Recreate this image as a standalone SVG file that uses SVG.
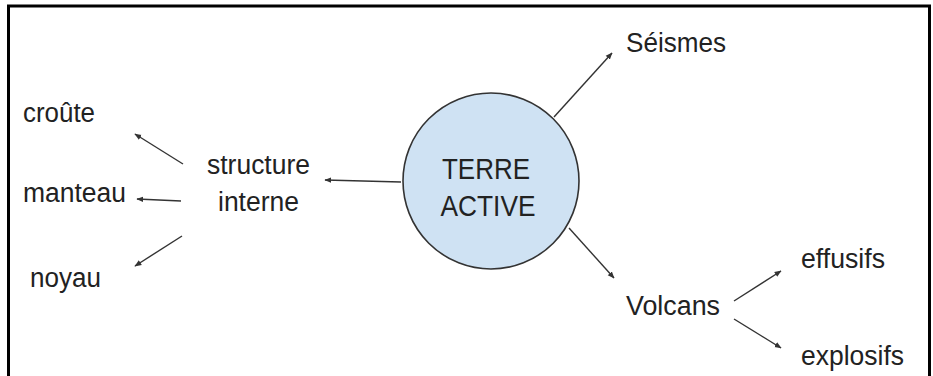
<svg xmlns="http://www.w3.org/2000/svg" width="933" height="376" viewBox="0 0 933 376">
<style>
.t{font-family:"Liberation Sans",Arial,sans-serif;font-size:27px;fill:#222;}
.c{font-size:30px;text-anchor:middle;}
.e{stroke:#333;stroke-width:1.4;fill:none;marker-end:url(#ah);}
</style>
<defs>
<marker id="ah" viewBox="0 0 10 10" refX="9" refY="5" markerWidth="7" markerHeight="7" markerUnits="userSpaceOnUse" orient="auto">
<path d="M0,1 L10,5 L0,9 z" fill="#333"/>
</marker>
</defs>
<rect width="933" height="376" fill="#fff"/>
<path d="M8.5,380 V6 H929.5 V380" fill="none" stroke="#000" stroke-width="3"/>
<g id="connectors">
<line class="e" x1="401" y1="182" x2="325" y2="180"/>
<line class="e" x1="183" y1="164" x2="135" y2="134"/>
<line class="e" x1="181" y1="201" x2="137" y2="199"/>
<line class="e" x1="182" y1="236" x2="135" y2="266"/>
<line class="e" x1="554" y1="117" x2="612" y2="53"/>
<line class="e" x1="569" y1="228" x2="614" y2="278"/>
<line class="e" x1="734" y1="301" x2="781" y2="271"/>
<line class="e" x1="734" y1="319" x2="781" y2="348"/>
</g>
<g id="terre">
<circle cx="491" cy="181" r="88" fill="#cfe2f3" stroke="#333" stroke-width="1.6"/>
<text class="t c" x="486" y="179" textLength="88" lengthAdjust="spacingAndGlyphs">TERRE</text>
<text class="t c" x="488" y="216" textLength="95" lengthAdjust="spacingAndGlyphs">ACTIVE</text>
</g>
<g id="seismes"><text class="t" x="626" y="52" textLength="100" lengthAdjust="spacingAndGlyphs">Séismes</text></g>
<g id="structure">
<text class="t" x="207" y="174" textLength="103" lengthAdjust="spacingAndGlyphs">structure</text>
<text class="t" x="218" y="211" textLength="81" lengthAdjust="spacingAndGlyphs">interne</text>
</g>
<g id="croute"><text class="t" x="23" y="122" textLength="72" lengthAdjust="spacingAndGlyphs">croûte</text></g>
<g id="manteau"><text class="t" x="23" y="202" textLength="103" lengthAdjust="spacingAndGlyphs">manteau</text></g>
<g id="noyau"><text class="t" x="30" y="287" textLength="71" lengthAdjust="spacingAndGlyphs">noyau</text></g>
<g id="volcans"><text class="t" x="626" y="315" textLength="94" lengthAdjust="spacingAndGlyphs">Volcans</text></g>
<g id="effusifs"><text class="t" x="801" y="268" textLength="84" lengthAdjust="spacingAndGlyphs">effusifs</text></g>
<g id="explosifs"><text class="t" x="801" y="365" textLength="103" lengthAdjust="spacingAndGlyphs">explosifs</text></g>
</svg>
